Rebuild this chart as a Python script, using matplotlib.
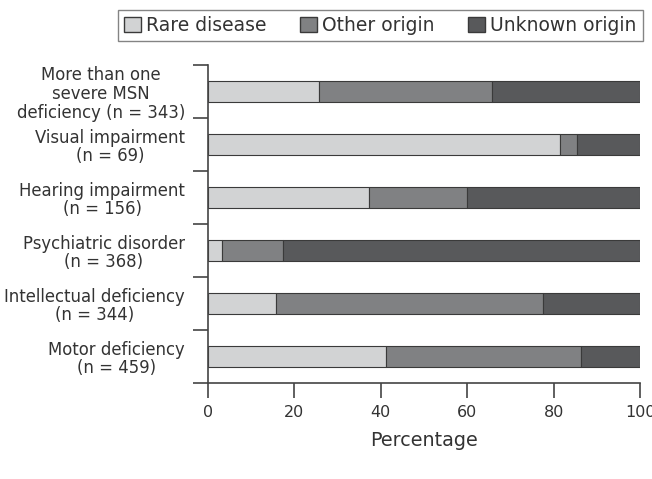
import numpy as np
import matplotlib.pyplot as plt
from matplotlib.patches import Patch

plt.rcParams['font.family'] = ['DejaVu Sans']

# Categories (top to bottom) and percentage of each origin
categories = ['More than one\nsevere MSN\ndeficiency (n = 343)',
              'Visual impairment\n(n = 69)',
              'Hearing impairment\n(n = 156)',
              'Psychiatric disorder\n(n = 368)',
              'Intellectual deficiency\n(n = 344)',
              'Motor deficiency\n(n = 459)']
rare_disease = [25.7, 81.4, 37.3, 3.2, 15.8, 41.3]
other_origin = [40.0, 4.0, 22.6, 14.2, 61.8, 45.0]
unknown_origin = [34.3, 14.6, 40.1, 82.6, 22.4, 13.7]

series_names = ['Rare disease', 'Other origin', 'Unknown origin']
colors = ['#d2d3d4', '#808183', '#58595b']
txt_col = '#333333'

fig = plt.figure(figsize=(6.52, 4.79), dpi=100)
ax = fig.add_axes([0.319, 0.2004, 0.6626, 0.6639])

y = np.arange(len(categories))
left = np.zeros(len(categories))
for vals, col in zip([rare_disease, other_origin, unknown_origin], colors):
    ax.barh(y, vals, left=left, height=0.4, color=col,
            edgecolor='#3a3a3a', linewidth=0.8)
    left += np.array(vals)

ax.set_ylim(len(categories) - 0.5, -0.5)
ax.set_xlim(0, 100)

# y ticks at category boundaries, labels at bar centres
ax.set_yticks(np.arange(-0.5, len(categories), 1.0))
ax.set_yticklabels([])
ax.set_yticks(y, minor=True)
ax.set_yticklabels(categories, minor=True, fontsize=11.9,
                   multialignment='center', linespacing=1.05, color=txt_col)
ax.tick_params(axis='y', which='minor', length=0, pad=16.5)
ax.tick_params(axis='y', which='major', length=11, width=1.2, color='#444444')

ax.set_xticks([0, 20, 40, 60, 80, 100])
ax.tick_params(axis='x', length=11, width=1.2, color='#444444', pad=5,
               labelsize=11.5, labelcolor=txt_col)
ax.set_xlabel('Percentage', fontsize=13.8, color=txt_col, labelpad=8)

for s in ['top', 'right']:
    ax.spines[s].set_visible(False)
for s in ['left', 'bottom']:
    ax.spines[s].set_linewidth(1.2)
    ax.spines[s].set_color('#444444')

handles = [Patch(facecolor=c, edgecolor='#3a3a3a', label=n)
           for c, n in zip(colors, series_names)]
leg = fig.legend(handles=handles, loc='upper left', ncol=3,
                 bbox_to_anchor=(118 / 652, 1 - 10 / 479),
                 frameon=True, fancybox=False, fontsize=13.5,
                 handlelength=0.9, handleheight=0.9, handletextpad=0.3,
                 columnspacing=1.75, borderpad=0.32, borderaxespad=0)
leg.get_frame().set_edgecolor('#666666')
leg.get_frame().set_linewidth(1.0)
for t in leg.get_texts():
    t.set_color(txt_col)

fig.savefig('out.png', dpi=100)
